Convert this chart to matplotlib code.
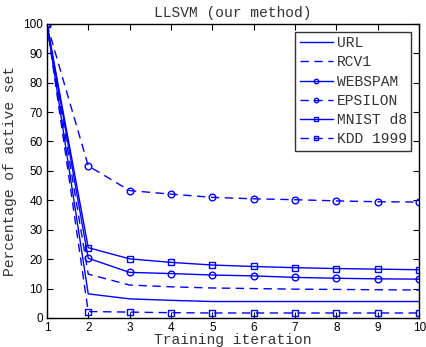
import matplotlib
matplotlib.use("Agg")
import matplotlib.pyplot as plt

iterations = [1, 2, 3, 4, 5, 6, 7, 8, 9, 10]
url = [100, 8.2, 6.5, 6.0, 5.6, 5.6, 5.6, 5.6, 5.6, 5.6]
rcv1 = [100, 14.9, 11.2, 10.6, 10.2, 10.0, 9.8, 9.7, 9.6, 9.5]
webspam = [100, 20.3, 15.5, 15.1, 14.6, 14.3, 13.8, 13.5, 13.3, 13.2]
epsilon = [100, 51.7, 43.3, 42.1, 41.0, 40.5, 40.2, 39.8, 39.5, 39.4]
mnist = [100, 23.9, 20.1, 18.9, 18.0, 17.5, 17.1, 16.8, 16.6, 16.4]
kdd = [100, 2.2, 2.0, 1.8, 1.7, 1.7, 1.7, 1.7, 1.7, 1.7]
labels = ["URL", "RCV1", "WEBSPAM", "EPSILON", "MNIST d8", "KDD 1999"]

mono = "Liberation Mono"
sans = "Liberation Sans"

fig = plt.figure(figsize=(4.26, 3.47), dpi=100)
ax = fig.add_axes([0.110, 0.0836, 0.874, 0.848])

blue = (0, 0, 1)
lw = 1.0
dash = (6, 4)
ax.plot(iterations, url, '-', color=blue, lw=lw, label=labels[0])
ax.plot(iterations, rcv1, '--', dashes=dash, color=blue, lw=lw, label=labels[1])
ax.plot(iterations, webspam, '-', color=blue, lw=lw, marker='o', ms=4.8, mfc='none', mew=1.0, label=labels[2])
ax.plot(iterations, epsilon, '--', dashes=dash, color=blue, lw=lw, marker='o', ms=4.8, mfc='none', mew=1.0, label=labels[3])
ax.plot(iterations, mnist, '-', color=blue, lw=lw, marker='s', ms=4.0, mfc='none', mew=1.0, label=labels[4])
ax.plot(iterations, kdd, '--', dashes=dash, color=blue, lw=lw, marker='s', ms=4.0, mfc='none', mew=1.0, label=labels[5])

ax.set_xlim(1, 10)
ax.set_ylim(0, 100)
ax.set_xticks(range(1, 11))
ax.set_yticks(range(0, 101, 10))
ax.tick_params(direction='in', top=True, right=True, length=4, labelsize=8.5, pad=3)
for t in ax.get_xticklabels() + ax.get_yticklabels():
    t.set_fontfamily(sans)
for s in ax.spines.values():
    s.set_linewidth(1.0)

ax.set_title("LLSVM (our method)", fontfamily=mono, fontsize=10.5, color='#333333', pad=5)
ax.set_xlabel("Training iteration", fontfamily=mono, fontsize=10.5, color='#333333', labelpad=-1)
ax.set_ylabel("Percentage of active set", fontfamily=mono, fontsize=10.5, color='#333333', labelpad=4)

leg = ax.legend(loc='upper right', prop={'family': mono, 'size': 10.5}, frameon=True, fancybox=False,
                edgecolor='black', handlelength=2.3, labelspacing=0.36, borderpad=0.3, handletextpad=0.25,
                borderaxespad=0.55)
leg.get_frame().set_linewidth(1.0)
for h in leg.legend_handles:
    h.set_markersize(3.2)
for t in leg.get_texts():
    t.set_color('#333333')

fig.savefig("out.png", dpi=100)
